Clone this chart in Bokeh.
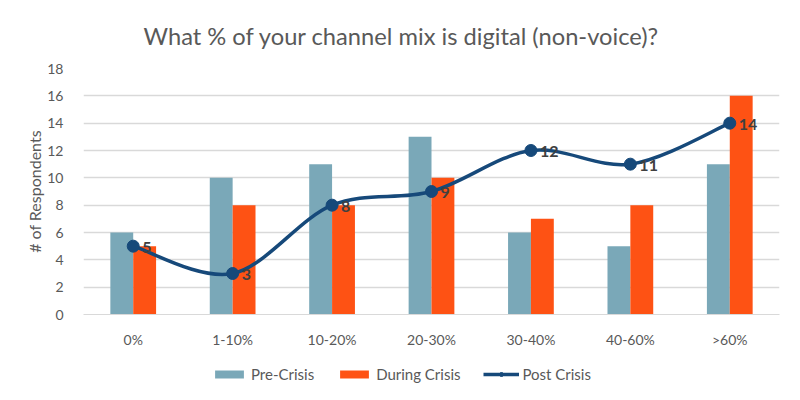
from bokeh.plotting import figure
from bokeh.layouts import column
from bokeh.models import (Range1d, FixedTicker, Legend, LegendItem, ColumnDataSource)
from bokeh.core.properties import value
from bokeh.embed import file_html
from bokeh.resources import INLINE

categories = ["0%", "1-10%", "10-20%", "20-30%", "30-40%", "40-60%", ">60%"]
pre_crisis = [6, 10, 11, 13, 6, 5, 11]
during_crisis = [5, 8, 8, 10, 7, 8, 16]
post_crisis = [5, 3, 8, 9, 12, 11, 14]
y_ticks = [0, 2, 4, 6, 8, 10, 12, 14, 16, 18]

FONT = "Lato"
GRAY = "#595959"
PRE_COLOR = "#7aa8b8"
DUR_COLOR = "#fe5214"
POST_COLOR = "#16497a"

idx = list(range(len(categories)))
bar_w = 0.23

p = figure(frame_width=696, frame_height=246, output_backend="svg", toolbar_location=None,
           x_range=Range1d(-0.5, len(categories) - 0.5), y_range=Range1d(0, 18),
           min_border_left=83, min_border_right=21, min_border_top=68, min_border_bottom=36)
p.outline_line_color = None
p.background_fill_color = "white"
p.border_fill_color = "white"

p.title.text = "What % of your channel mix is digital (non-voice)?"
p.title.align = "left"
p.title.offset = 60
p.title.text_font = FONT
p.title.text_font_size = "23.7px"
p.title.text_font_style = "normal"
p.title.text_color = GRAY
p.title.text_line_height = 1.0
p.title.standoff = 38

src = ColumnDataSource(dict(x=idx, pre=pre_crisis, dur=during_crisis, post=post_crisis,
                            lab=[str(v) for v in post_crisis]))

r_pre = p.vbar(x=[i - bar_w / 2 for i in idx], top=pre_crisis, width=bar_w, bottom=0,
               fill_color=PRE_COLOR, line_color=None)
r_dur = p.vbar(x=[i + bar_w / 2 for i in idx], top=during_crisis, width=bar_w, bottom=0,
               fill_color=DUR_COLOR, line_color=None)

# smoothed line (Catmull-Rom style Bezier segments through the data points)
n = len(post_crisis)
x0, y0, x1, y1, cx0, cy0, cx1, cy1 = [], [], [], [], [], [], [], []
for i in range(n - 1):
    im1 = max(i - 1, 0)
    ip2 = min(i + 2, n - 1)
    x0.append(idx[i]); y0.append(post_crisis[i])
    x1.append(idx[i + 1]); y1.append(post_crisis[i + 1])
    cx0.append(idx[i] + (idx[i + 1] - idx[im1]) / 6.0)
    cy0.append(post_crisis[i] + (post_crisis[i + 1] - post_crisis[im1]) / 6.0)
    cx1.append(idx[i + 1] - (idx[ip2] - idx[i]) / 6.0)
    cy1.append(post_crisis[i + 1] - (post_crisis[ip2] - post_crisis[i]) / 6.0)
r_line = p.bezier(x0=x0, y0=y0, x1=x1, y1=y1, cx0=cx0, cy0=cy0, cx1=cx1, cy1=cy1,
                  line_color=POST_COLOR, line_width=3.5)
r_pts = p.scatter(x="x", y="post", source=src, size=12, fill_color=POST_COLOR,
                  line_color=POST_COLOR)
p.text(x="x", y="post", text="lab", source=src, x_offset=9, y_offset=1,
       text_font=value(FONT), text_font_size="16px", text_font_style="bold",
       text_color="#404040", text_align="left", text_baseline="middle")

# axes
p.xaxis.ticker = FixedTicker(ticks=idx)
p.xaxis.major_label_overrides = {i: c for i, c in zip(idx, categories)}
p.xaxis.major_tick_line_color = None
p.xaxis.minor_tick_line_color = None
p.xaxis.major_tick_out = 0
p.xaxis.major_tick_in = 0
p.xaxis.axis_line_color = "#d9d9d9"
p.xaxis.major_label_text_font = FONT
p.xaxis.major_label_text_font_size = "14px"
p.xaxis.major_label_text_color = GRAY
p.xaxis.major_label_standoff = 16

p.yaxis.ticker = FixedTicker(ticks=y_ticks)
p.yaxis.axis_line_color = None
p.yaxis.major_tick_line_color = None
p.yaxis.minor_tick_line_color = None
p.yaxis.major_label_text_font = FONT
p.yaxis.major_label_text_font_size = "14px"
p.yaxis.major_label_text_color = GRAY
p.yaxis.major_label_standoff = 14
p.yaxis.axis_label = "# of Respondents"
p.yaxis.axis_label_text_font = FONT
p.yaxis.axis_label_text_font_size = "16px"
p.yaxis.axis_label_text_font_style = "normal"
p.yaxis.axis_label_text_color = GRAY
p.yaxis.axis_label_standoff = 0

p.xgrid.grid_line_color = None
p.ygrid.ticker = FixedTicker(ticks=y_ticks)
p.ygrid.grid_line_color = "#d9d9d9"
p.ygrid.grid_line_width = 1.5

# legend strip below the chart: same series drawn out of view, only the legend shows
lg = figure(width=800, height=50, output_backend="svg", toolbar_location=None,
            x_range=Range1d(-0.5, len(categories) - 0.5), y_range=Range1d(100, 101),
            min_border=0, x_axis_location=None, y_axis_location=None)
lg.outline_line_color = None
lg.xgrid.visible = False
lg.ygrid.visible = False
l_pre = lg.vbar(x=idx, top=pre_crisis, width=bar_w, bottom=0, fill_color=PRE_COLOR, line_color=None)
l_dur = lg.vbar(x=idx, top=during_crisis, width=bar_w, bottom=0, fill_color=DUR_COLOR, line_color=None)
l_line = lg.line(x=idx, y=post_crisis, line_color=POST_COLOR, line_width=3.5)
l_pts = lg.scatter(x=idx, y=post_crisis, size=12, fill_color=POST_COLOR, line_color=POST_COLOR)

legend = Legend(items=[
    LegendItem(label="Pre-Crisis", renderers=[l_pre]),
    LegendItem(label="During Crisis", renderers=[l_dur]),
    LegendItem(label="Post Crisis", renderers=[l_line, l_pts]),
], orientation="horizontal", location=(128, 17))
legend.label_text_font = FONT
legend.label_text_font_size = "15px"
legend.label_text_color = GRAY
legend.glyph_width = 36
legend.glyph_height = 10
legend.label_height = 16
legend.label_standoff = 4
legend.spacing = 22
legend.border_line_color = None
legend.background_fill_alpha = 0
legend.margin = 0
legend.padding = 2
lg.add_layout(legend, "center")

open("out.html", "w").write(file_html(column(p, lg), INLINE))
